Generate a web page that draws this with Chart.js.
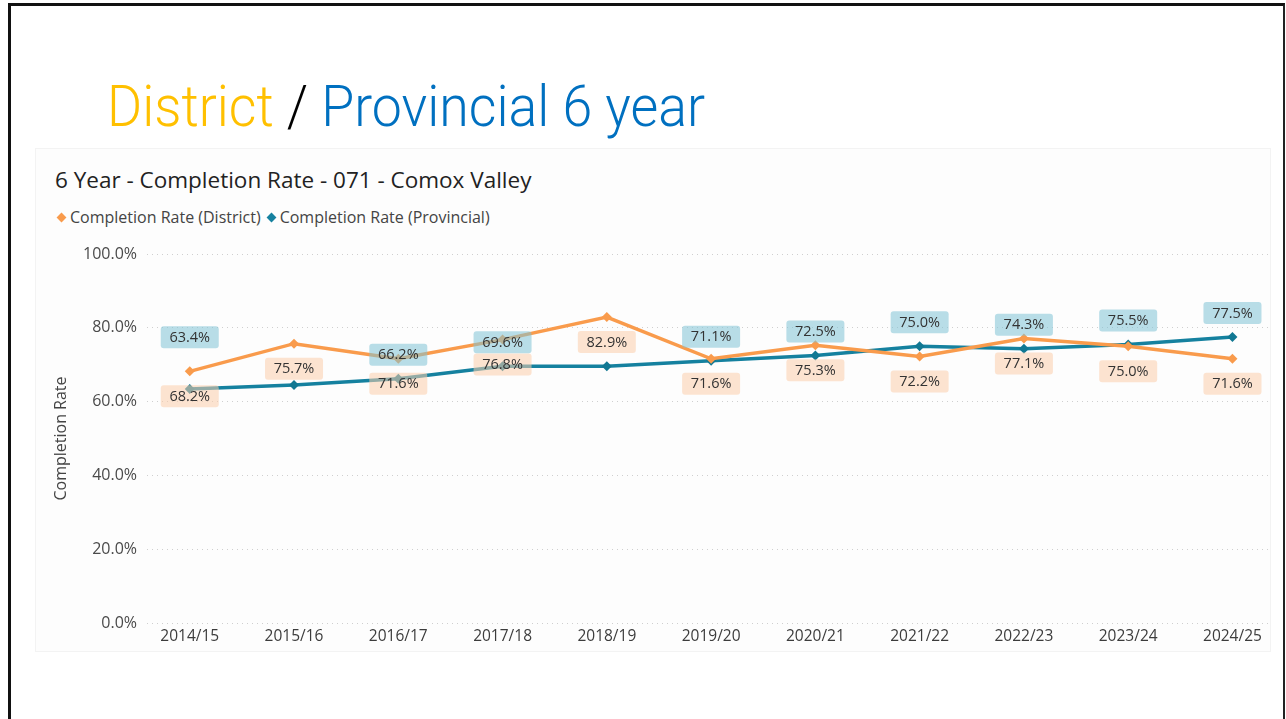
<!DOCTYPE html>
<html>
<head>
<meta charset="utf-8">
<script src="https://cdn.jsdelivr.net/npm/chart.js@4.4.1/dist/chart.umd.min.js"></script>
<style>
  html, body { margin: 0; padding: 0; background: #fff; }
  body { width: 1286px; height: 719px; position: relative; overflow: hidden; font-family: "Open Sans", "Noto Sans", sans-serif; }
  #frame { position: absolute; left: 8px; top: 3px; width: 1277px; height: 760px; border-left: 3px solid #111; border-top: 3px solid #111; border-right: 2px solid #222; box-sizing: border-box; }
  #panel { position: absolute; left: 35px; top: 148px; width: 1236px; height: 504px; background: #fdfdfd; border: 1px solid #f3f3f3; box-sizing: border-box; }
  #bigtitle { position: absolute; left: 107px; top: 78px; font-family: Roboto, "Liberation Sans", sans-serif; font-weight: 300; font-size: 57px; line-height: 57px; white-space: nowrap; transform-origin: 0 0; }
  #ctitle { position: absolute; left: 55px; top: 165px; font-size: 22.5px; line-height: 30px; color: #222; white-space: nowrap; }
  #legend { position: absolute; left: 55px; top: 206px; font-size: 16px; line-height: 22px; color: #444; white-space: nowrap; }
  #legend .item { display: inline-block; margin-right: 4px; }
  #legend .dia { display: inline-block; width: 7px; height: 7px; transform: rotate(45deg); margin: 0 5px 2px 3px; vertical-align: middle; }
  canvas { position: absolute; left: 0; top: 0; }
</style>
</head>
<body>
<div id="frame"></div>
<div id="panel"></div>
<div id="bigtitle"><span style="color:#FFC000">District</span><span style="color:#000"> / </span><span style="color:#0070C0">Provincial 6 year</span></div>
<div id="ctitle">6 Year - Completion Rate - 071 - Comox Valley</div>
<div id="legend"></div>
<canvas id="c" width="1286" height="719"></canvas>
<script>
// ---- data ----
const categories = ["2014/15","2015/16","2016/17","2017/18","2018/19","2019/20","2020/21","2021/22","2022/23","2023/24","2024/25"];
const districtRate = [68.2, 75.7, 71.6, 76.8, 82.9, 71.6, 75.3, 72.2, 77.1, 75.0, 71.6];
const provincialRate = [63.4, 64.5, 66.2, 69.6, 69.6, 71.1, 72.5, 75.0, 74.3, 75.5, 77.5];
const yTicks = [0, 20, 40, 60, 80, 100];
const seriesNames = ["Completion Rate (District)", "Completion Rate (Provincial)"];

const ORANGE = "#F99B4C", TEAL = "#15819F";
const FONT = '"Open Sans", "Noto Sans", sans-serif';

// fit big title width
(function(){
  const bt = document.getElementById('bigtitle');
  const w = bt.getBoundingClientRect().width;
  bt.style.transform = 'scaleX(' + (598 / w) + ')';
})();

// html legend
document.getElementById('legend').innerHTML =
  '<span class="item"><span class="dia" style="background:' + ORANGE + '"></span>' + seriesNames[0] + '</span>' +
  '<span class="item"><span class="dia" style="background:' + TEAL + '"></span>' + seriesNames[1] + '</span>';

// data label plugin
const labelPlugin = {
  id: 'boxLabels',
  afterDatasetsDraw(chart, args, opts) {
    const ctx = chart.ctx;
    const metaD = chart.getDatasetMeta(0), metaP = chart.getDatasetMeta(1);
    ctx.save();
    ctx.font = '14.5px ' + FONT;
    ctx.textAlign = 'center';
    ctx.textBaseline = 'middle';
    const drawBox = (x, y, text, fill) => {
      const w = 58, h = 22, r = 3;
      ctx.fillStyle = fill;
      ctx.beginPath();
      ctx.roundRect(x - w/2, y - h/2, w, h, r);
      ctx.fill();
      ctx.fillStyle = '#333';
      ctx.fillText(text, x, y + 0.5);
    };
    const boxes = [];
    metaD.data.forEach((pt, i) => {
      const y = pt.y + opts.below;
      boxes.push({x: pt.x, y});
      drawBox(pt.x, y, districtRate[i].toFixed(1) + '%', opts.orangeFill);
    });
    metaP.data.forEach((pt, i) => {
      let y = pt.y - opts.above;
      if (opts.liftAboveOther.includes(i)) y = metaD.data[i].y - opts.above - 10;
      // skip when the label would collide with the district label
      const b = boxes[i];
      if (Math.abs(b.y - y) < 20 && Math.abs(b.x - pt.x) < 58) return;
      drawBox(pt.x, y, provincialRate[i].toFixed(1) + '%', opts.blueFill);
    });
    ctx.restore();
  }
};

const chart = new Chart(document.getElementById('c'), {
  type: 'line',
  data: {
    datasets: [
      { label: seriesNames[0], data: districtRate.map((v, i) => ({x: i, y: v})),
        borderColor: ORANGE, backgroundColor: ORANGE, borderWidth: 3.5,
        pointStyle: 'rectRot', pointRadius: 5, pointBorderWidth: 0, tension: 0 },
      { label: seriesNames[1], data: provincialRate.map((v, i) => ({x: i, y: v})),
        borderColor: TEAL, backgroundColor: "#117893", borderWidth: 3.5,
        pointStyle: 'rectRot', pointRadius: 5, pointBorderWidth: 0, tension: 0 }
    ]
  },
  options: {
    responsive: false,
    animation: false,
    layout: { padding: { left: 50, top: 254, right: 16, bottom: 56 } },
    plugins: {
      legend: { display: false },
      title: { display: false },
      tooltip: { enabled: false },
      boxLabels: { below: 25, above: 24, liftAboveOther: [0],
        orangeFill: 'rgba(251,206,172,0.55)', blueFill: 'rgba(128,195,214,0.55)' }
    },
    scales: {
      x: {
        type: 'linear', min: -0.41, max: 10.36,
        afterBuildTicks(scale) { scale.ticks = categories.map((_, i) => ({value: i})); },
        afterFit(scale) { scale.height = 40; },
        grid: { display: false, drawTicks: false },
        border: { display: false },
        ticks: { autoSkip: false, maxRotation: 0, padding: 4, color: '#3c3c3c',
          font: { family: FONT, size: 15.5 },
          callback: (v) => categories[v] }
      },
      y: {
        min: 0, max: 100,
        afterBuildTicks(scale) { scale.ticks = yTicks.map(v => ({value: v})); },
        afterFit(scale) { scale.width = 97; },
        grid: { color: '#cfcfcf', lineWidth: 1, drawTicks: false },
        border: { display: false, dash: [1, 4] },
        ticks: { padding: 10, color: '#4a4a4a',
          font: { family: FONT, size: 16 },
          callback: (v) => v.toFixed(1) + '%' },
        title: { display: true, text: 'Completion Rate', color: '#444',
          font: { family: FONT, size: 16 }, padding: { top: 2, bottom: 0 } }
      }
    }
  },
  plugins: [labelPlugin]
});
</script>
</body>
</html>
